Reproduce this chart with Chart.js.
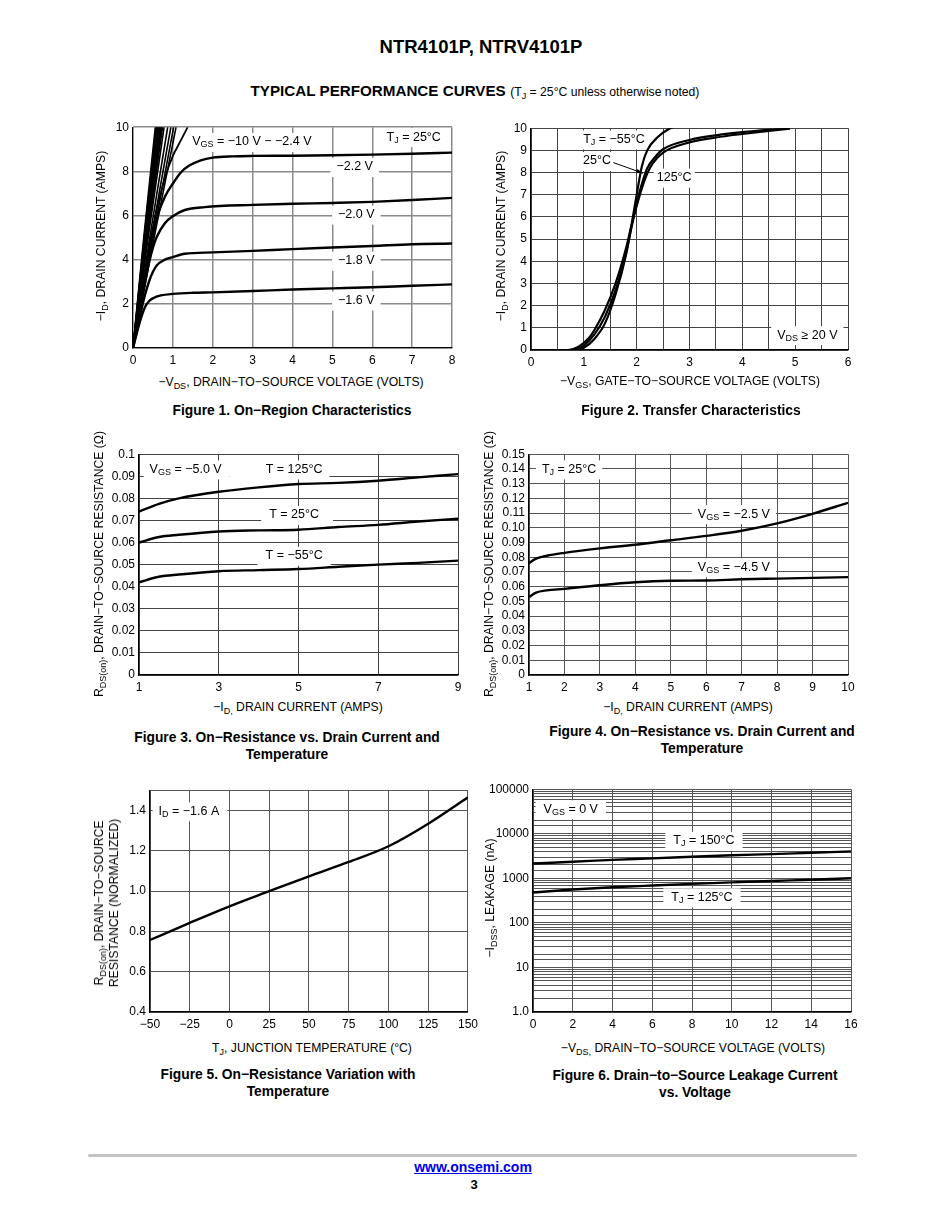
<!DOCTYPE html>
<html>
<head>
<meta charset="utf-8">
<script src="https://cdn.jsdelivr.net/npm/chart.js@4.4.1/dist/chart.umd.min.js"></script>
<style>
  body { margin: 0; background: #fff; font-family: "Liberation Sans", Arial, sans-serif; color: #000; }
  #page { position: relative; width: 950px; height: 1230px; overflow: hidden; }
  .abs { position: absolute; white-space: nowrap; }
  .c { transform: translate(-50%, -50%); }
  .r { transform: translate(-50%, -50%) rotate(-90deg); }
  .ax { font-size: 12.2px; }
  .cap { font-size: 13.8px; font-weight: bold; text-align: center; line-height: 17px; }
  sub { font-size: 9px; vertical-align: -3px; line-height: 0; }
  canvas { position: absolute; }
</style>
</head>
<body>
<div id="page">
  <div class="abs c" style="left:481px;top:47px;font-size:18.5px;font-weight:bold">NTR4101P, NTRV4101P</div>
  <div class="abs c" style="left:475px;top:91px"><b style="font-size:15.2px">TYPICAL PERFORMANCE CURVES</b> <span style="font-size:12.2px">(T<sub>J</sub> = 25°C unless otherwise noted)</span></div>

  <canvas id="fig1"></canvas>
  <canvas id="fig2"></canvas>
  <canvas id="fig3"></canvas>
  <canvas id="fig4"></canvas>
  <canvas id="fig5"></canvas>
  <canvas id="fig6"></canvas>

  <!-- axis titles -->
  <div class="abs r ax" style="left:101px;top:236px">−I<sub>D</sub>, DRAIN CURRENT (AMPS)</div>
  <div class="abs c ax" style="left:291px;top:382px">−V<sub>DS</sub>, DRAIN−TO−SOURCE VOLTAGE (VOLTS)</div>
  <div class="abs r ax" style="left:501px;top:236px">−I<sub>D</sub>, DRAIN CURRENT (AMPS)</div>
  <div class="abs c ax" style="left:690px;top:381px">−V<sub>GS</sub>, GATE−TO−SOURCE VOLTAGE (VOLTS)</div>
  <div class="abs r ax" style="left:99px;top:564px">R<sub>DS(on)</sub>, DRAIN−TO−SOURCE RESISTANCE (Ω)</div>
  <div class="abs c ax" style="left:298px;top:707px">−I<sub>D,</sub> DRAIN CURRENT (AMPS)</div>
  <div class="abs r ax" style="left:489px;top:564px">R<sub>DS(on)</sub>, DRAIN−TO−SOURCE RESISTANCE (Ω)</div>
  <div class="abs c ax" style="left:688px;top:707px">−I<sub>D,</sub> DRAIN CURRENT (AMPS)</div>
  <div class="abs r ax" style="left:107px;top:903px;text-align:center;line-height:15px">R<sub>DS(on)</sub>, DRAIN−TO−SOURCE<br>RESISTANCE (NORMALIZED)</div>
  <div class="abs c ax" style="left:312px;top:1048px">T<sub>J</sub>, JUNCTION TEMPERATURE (°C)</div>
  <div class="abs r ax" style="left:490px;top:898px">−I<sub>DSS</sub>, LEAKAGE (nA)</div>
  <div class="abs c ax" style="left:693px;top:1048px">−V<sub>DS,</sub> DRAIN−TO−SOURCE VOLTAGE (VOLTS)</div>

  <!-- captions -->
  <div class="abs c cap" style="left:292px;top:410px">Figure 1. On−Region Characteristics</div>
  <div class="abs c cap" style="left:691px;top:410px">Figure 2. Transfer Characteristics</div>
  <div class="abs c cap" style="left:287px;top:746px">Figure 3. On−Resistance vs. Drain Current and<br>Temperature</div>
  <div class="abs c cap" style="left:702px;top:740px">Figure 4. On−Resistance vs. Drain Current and<br>Temperature</div>
  <div class="abs c cap" style="left:288px;top:1083px">Figure 5. On−Resistance Variation with<br>Temperature</div>
  <div class="abs c cap" style="left:695px;top:1084px">Figure 6. Drain−to−Source Leakage Current<br>vs. Voltage</div>

  <!-- footer -->
  <div class="abs" style="left:88px;top:1154px;width:769px;height:3px;background:#c3c3c3;border-radius:2px"></div>
  <div class="abs c" style="left:473px;top:1167px;font-size:14px;font-weight:bold;color:#0000ee;text-decoration:underline">www.onsemi.com</div>
  <div class="abs c" style="left:474px;top:1184px;font-size:13px;font-weight:bold">3</div>
</div>

<script>
// ---- Figure 1: on-region characteristics ----
const fig1Vds16 = [0, 0.1, 0.2, 0.3, 0.4, 0.5, 0.7, 1, 1.5, 2, 3, 4, 5, 6, 7, 8];
const fig1Id16 = [0, 0.7, 1.35, 1.85, 2.12, 2.25, 2.38, 2.45, 2.5, 2.52, 2.58, 2.65, 2.7, 2.75, 2.82, 2.88];
const fig1Vds18 = [0, 0.1, 0.2, 0.3, 0.4, 0.5, 0.6, 0.8, 1, 1.3, 2, 3, 4, 5, 6, 7, 8];
const fig1Id18 = [0, 0.85, 1.65, 2.4, 3.0, 3.45, 3.75, 4.0, 4.12, 4.27, 4.33, 4.4, 4.48, 4.55, 4.62, 4.7, 4.73];
const fig1Vds20 = [0, 0.1, 0.2, 0.3, 0.4, 0.5, 0.6, 0.8, 1, 1.3, 1.8, 3, 4, 5, 6, 7, 8];
const fig1Id20 = [0, 1.0, 2.0, 2.95, 3.85, 4.55, 5.05, 5.65, 5.97, 6.25, 6.38, 6.48, 6.53, 6.57, 6.62, 6.7, 6.8];
const fig1Vds22 = [0, 0.1, 0.2, 0.4, 0.6, 0.8, 1, 1.2, 1.4, 1.7, 2, 2.5, 3, 4, 5, 6, 7, 8];
const fig1Id22 = [0, 1.1, 2.2, 4.3, 5.9, 6.85, 7.45, 7.95, 8.25, 8.5, 8.62, 8.68, 8.7, 8.71, 8.73, 8.76, 8.8, 8.85];
const fig1Vds24 = [0, 0.1, 0.2, 0.4, 0.6, 0.8, 1.0, 1.2, 1.37];
const fig1Id24 = [0, 1.15, 2.3, 4.5, 6.3, 7.7, 8.7, 9.4, 10];
// steep curves (VGS = -10 V ... -2.6 V): VDS where ID = 5 A and ID = 10 A
const fig1SteepMid = [0.27, 0.28, 0.29, 0.30, 0.31, 0.32, 0.33, 0.34, 0.35, 0.36, 0.38, 0.42, 0.46, 0.5, 0.53];
const fig1SteepTop = [0.56, 0.58, 0.60, 0.62, 0.64, 0.66, 0.68, 0.70, 0.72, 0.74, 0.78, 0.87, 0.95, 1.02, 1.08];

// ---- Figure 2: transfer characteristics ----
const fig2VgsM55 = [0, 0.8, 1.0, 1.2, 1.4, 1.6, 1.8, 1.9, 2.0, 2.1, 2.2, 2.4, 2.6, 2.7];
const fig2IdM55 = [0, 0, 0.1, 0.5, 1.2, 2.5, 4.3, 5.6, 7.0, 8.3, 9.0, 9.6, 9.95, 10.05];
const fig2Vgs25 = [0, 0.8, 1.0, 1.2, 1.4, 1.6, 1.8, 1.9, 2.0, 2.1, 2.2, 2.35, 2.5, 3, 3.5, 4, 4.5, 4.9];
const fig2Id25 = [0, 0, 0.2, 0.7, 1.5, 2.7, 4.4, 5.5, 6.6, 7.5, 8.2, 8.7, 9.05, 9.47, 9.68, 9.82, 9.93, 10];
const fig2Vgs125 = [0, 0.7, 0.9, 1.1, 1.2, 1.4, 1.6, 1.8, 1.9, 2.0, 2.1, 2.2, 2.3, 2.5, 3, 3.5, 4, 4.5, 4.9];
const fig2Id125 = [0, 0, 0.15, 0.55, 0.9, 1.8, 3.0, 4.6, 5.6, 6.5, 7.3, 7.95, 8.4, 8.9, 9.36, 9.58, 9.74, 9.88, 9.98];

// ---- Figure 3: RDS(on) vs ID and temperature (VGS = -5 V) ----
const fig3Id = [1, 1.5, 2, 3, 4, 5, 6, 7, 8, 9];
const fig3R125 = [0.074, 0.0775, 0.080, 0.083, 0.085, 0.0865, 0.087, 0.088, 0.0895, 0.091];
const fig3R25 = [0.060, 0.0625, 0.0635, 0.065, 0.0655, 0.0658, 0.067, 0.068, 0.0695, 0.0708];
const fig3RM55 = [0.042, 0.0445, 0.0455, 0.047, 0.0475, 0.048, 0.049, 0.050, 0.0508, 0.0518];

// ---- Figure 4: RDS(on) vs ID and VGS ----
const fig4Id = [1, 1.2, 1.5, 2, 3, 4, 5, 6, 7, 8, 9, 10];
const fig4R25V = [0.076, 0.079, 0.081, 0.083, 0.086, 0.0885, 0.0915, 0.0945, 0.098, 0.103, 0.1095, 0.117];
const fig4R45V = [0.053, 0.056, 0.0575, 0.0585, 0.061, 0.063, 0.064, 0.0642, 0.065, 0.0655, 0.066, 0.0665];

// ---- Figure 5: normalized RDS(on) vs TJ ----
const fig5Tj = [-50, -25, 0, 25, 50, 75, 100, 125, 150];
const fig5R = [0.757, 0.842, 0.924, 0.999, 1.073, 1.144, 1.222, 1.334, 1.465];

// ---- Figure 6: IDSS leakage vs VDS ----
const fig6Vds = [0, 2, 4, 6, 8, 10, 12, 14, 16];
const fig6I150 = [2150, 2350, 2600, 2800, 3050, 3300, 3500, 3750, 4000];
const fig6I125 = [480, 560, 630, 690, 750, 810, 870, 930, 1000];

const MAINFONT = '12.5px "Liberation Sans", Arial, sans-serif';
const SUBFONT = '9px "Liberation Sans", Arial, sans-serif';

function pts(xs, ys) { return xs.map((x, i) => ({ x: x, y: ys[i] })); }
function curve(xs, ys, w) {
  return { data: pts(xs, ys), borderColor: '#000', borderWidth: w || 2.4, showLine: true,
           pointRadius: 0, fill: false, cubicInterpolationMode: 'monotone' };
}
function rich(s) {
  const out = [];
  s.split(/(_\{[^}]*\})/).forEach(t => {
    if (!t) return;
    if (t.startsWith('_{')) out.push({ t: t.slice(2, -1), sub: true });
    else out.push({ t: t, sub: false });
  });
  return out;
}
function measure(ctx, n) {
  const parts = rich(n.text);
  let w = 0;
  parts.forEach(p => { ctx.font = p.sub ? SUBFONT : MAINFONT; p.w = ctx.measureText(p.t).width; w += p.w; });
  return { parts, w };
}

// white-backed labels and leader arrows inside the plot
const notesPlugin = {
  id: 'notes',
  beforeDatasetsDraw(chart, args, opts) {
    const ctx = chart.ctx, sx = chart.scales.x, sy = chart.scales.y;
    ctx.save();
    (opts.items || []).forEach(n => {
      if (!n.text) return;
      const px = sx.getPixelForValue(n.x), py = sy.getPixelForValue(n.y);
      const m = measure(ctx, n);
      const pl = n.pl ?? 6, pr = n.pr ?? 6;
      ctx.fillStyle = '#fff';
      ctx.fillRect(px - m.w / 2 - pl, py - 9, m.w + pl + pr, 19);
    });
    ctx.restore();
  },
  afterDatasetsDraw(chart, args, opts) {
    const ctx = chart.ctx, sx = chart.scales.x, sy = chart.scales.y;
    ctx.save();
    (opts.items || []).forEach(n => {
      const px = sx.getPixelForValue(n.x), py = sy.getPixelForValue(n.y);
      if (n.to) {
        const qx = sx.getPixelForValue(n.to[0]), qy = sy.getPixelForValue(n.to[1]);
        ctx.strokeStyle = '#000'; ctx.lineWidth = 1;
        ctx.beginPath(); ctx.moveTo(px, py); ctx.lineTo(qx, qy); ctx.stroke();
        const a = Math.atan2(qy - py, qx - px);
        ctx.beginPath(); ctx.moveTo(qx, qy);
        ctx.lineTo(qx - 7 * Math.cos(a - 0.3), qy - 7 * Math.sin(a - 0.3));
        ctx.lineTo(qx - 7 * Math.cos(a + 0.3), qy - 7 * Math.sin(a + 0.3));
        ctx.closePath(); ctx.fillStyle = '#000'; ctx.fill();
        return;
      }
      const m = measure(ctx, n);
      let x0 = px - m.w / 2;
      ctx.fillStyle = '#000'; ctx.textBaseline = 'middle'; ctx.textAlign = 'left';
      m.parts.forEach(p => {
        ctx.font = p.sub ? SUBFONT : MAINFONT;
        ctx.fillText(p.t, x0, p.sub ? py + 3 : py);
        x0 += p.w;
      });
    });
    ctx.restore();
  }
};

function axis(o, isX) {
  return {
    type: o.type || 'linear',
    min: o.min, max: o.max,
    ticks: { stepSize: o.step, callback: o.cb, autoSkip: false, maxRotation: 0, color: '#000',
             padding: isX ? 5 : 4, font: { family: '"Liberation Sans", Arial, sans-serif', size: 12 } },
    grid: { color: o.grid || '#555', lineWidth: o.gw || 1, drawTicks: false },
    border: { color: '#000', width: 1.2 },
    afterFit: s => { if (isX) s.height = 25; else s.width = 50; }
  };
}

// rect = plot area edges on the page
function makeChart(id, rect, datasets, xo, yo, notes) {
  const cv = document.getElementById(id);
  const w = rect.R - rect.L + 65, h = rect.B - rect.T + 35;
  cv.width = w; cv.height = h;
  cv.style.left = (rect.L - 50) + 'px'; cv.style.top = (rect.T - 10) + 'px';
  cv.style.width = w + 'px'; cv.style.height = h + 'px';
  return new Chart(cv.getContext('2d'), {
    type: 'scatter',
    data: { datasets: datasets },
    options: {
      responsive: false, animation: false, devicePixelRatio: 1,
      layout: { padding: { top: 10, right: 15, left: 0, bottom: 0 } },
      plugins: { legend: { display: false }, tooltip: { enabled: false }, notes: { items: notes } },
      scales: { x: axis(xo, true), y: axis(yo, false) }
    },
    plugins: [notesPlugin]
  });
}

const near = (a, b) => Math.abs(a - b) < 1e-9;

// Figure 1
const fig1Sets = [
  curve(fig1Vds16, fig1Id16), curve(fig1Vds18, fig1Id18), curve(fig1Vds20, fig1Id20),
  curve(fig1Vds22, fig1Id22), curve(fig1Vds24, fig1Id24, 1.8)
];
fig1SteepTop.forEach((t, i) => fig1Sets.push(curve([0, fig1SteepMid[i], t], [0, 5, 10], 1.6)));
makeChart('fig1', { L: 133, R: 452, T: 126, B: 348 }, fig1Sets,
  { min: 0, max: 8, step: 1, grid: '#8a8a8a', gw: 1.5 },
  { min: 0, max: 10, step: 2, grid: '#8a8a8a', gw: 1.5 },
  [
    { x: 2.98, y: 9.33, text: 'V_{GS} = −10 V − −2.4 V' },
    { x: 7.04, y: 9.55, text: 'T_{J} = 25°C' },
    { x: 5.56, y: 8.2, text: '−2.2 V' },
    { x: 5.6, y: 6.04, text: '−2.0 V' },
    { x: 5.6, y: 3.95, text: '−1.8 V' },
    { x: 5.6, y: 2.15, text: '−1.6 V' }
  ]);

// Figure 2
makeChart('fig2', { L: 531, R: 848, T: 127, B: 350 },
  [curve(fig2VgsM55, fig2IdM55, 2.2), curve(fig2Vgs25, fig2Id25, 2.2), curve(fig2Vgs125, fig2Id125, 2.2)],
  { min: 0, max: 6, step: 0.5, cb: v => Number.isInteger(v) ? v : '', grid: '#444' },
  { min: 0, max: 10, step: 1, grid: '#444' },
  [
    { x: 1.57, y: 9.49, text: 'T_{J} = −55°C', pl: 3, pr: 3 },
    { x: 1.25, y: 8.52, text: '25°C', pl: 3, pr: 3 },
    { x: 1.56, y: 8.45, to: [2.12, 7.97] },
    { x: 2.71, y: 7.77, text: '125°C', pl: 3, pr: 3 },
    { x: 5.23, y: 0.67, text: 'V_{DS} ≥ 20 V' }
  ]);

// Figure 3
makeChart('fig3', { L: 139, R: 458, T: 453, B: 675 },
  [curve(fig3Id, fig3R125), curve(fig3Id, fig3R25), curve(fig3Id, fig3RM55)],
  { min: 1, max: 9, step: 2, grid: '#444' },
  { min: 0, max: 0.1, step: 0.01, grid: '#444',
    cb: v => near(v, 0) ? '0' : near(v, 0.1) ? '0.1' : v.toFixed(2) },
  [
    { x: 2.17, y: 0.0931, text: 'V_{GS} = −5.0 V', pr: 8 },
    { x: 4.89, y: 0.0931, text: 'T = 125°C', pl: 36, pr: 7 },
    { x: 4.89, y: 0.0725, text: 'T = 25°C', pl: 8, pr: 14 },
    { x: 4.89, y: 0.054, text: 'T = −55°C', pl: 8, pr: 8 }
  ]);

// Figure 4
makeChart('fig4', { L: 529, R: 848, T: 453, B: 675 },
  [curve(fig4Id, fig4R25V), curve(fig4Id, fig4R45V)],
  { min: 1, max: 10, step: 1, grid: '#555' },
  { min: 0, max: 0.15, step: 0.01, grid: '#555', cb: v => near(v, 0) ? '0' : v.toFixed(2) },
  [
    { x: 2.13, y: 0.1397, text: 'T_{J} = 25°C' },
    { x: 6.78, y: 0.1093, text: 'V_{GS} = −2.5 V' },
    { x: 6.78, y: 0.0732, text: 'V_{GS} = −4.5 V' }
  ]);

// Figure 5
makeChart('fig5', { L: 150, R: 468, T: 789, B: 1012 },
  [curve(fig5Tj, fig5R)],
  { min: -50, max: 150, step: 25, grid: '#555', cb: v => v < 0 ? '−' + Math.abs(v) : v },
  { min: 0.4, max: 1.5, step: 0.2, grid: '#555', cb: v => near(v, 1.5) ? '' : v.toFixed(1) },
  [
    { x: -25.5, y: 1.395, text: 'I_{D} = −1.6 A', pr: 8 }
  ]);

// Figure 6
const isDecade = v => near(Math.log10(v), Math.round(Math.log10(v)));
makeChart('fig6', { L: 533, R: 851, T: 788, B: 1012 },
  [curve(fig6Vds, fig6I150), curve(fig6Vds, fig6I125)],
  { min: 0, max: 16, step: 2, grid: '#555' },
  { type: 'logarithmic', min: 1, max: 100000, grid: '#555',
    cb: v => !isDecade(v) ? '' : v === 1 ? '1.0' : String(v) },
  [
    { x: 1.9, y: 35300, text: 'V_{GS} = 0 V', pl: 8, pr: 8 },
    { x: 8.6, y: 6900, text: 'T_{J} = 150°C', pl: 8, pr: 8 },
    { x: 8.5, y: 375, text: 'T_{J} = 125°C', pl: 8, pr: 8 }
  ]);
</script>
</body>
</html>
